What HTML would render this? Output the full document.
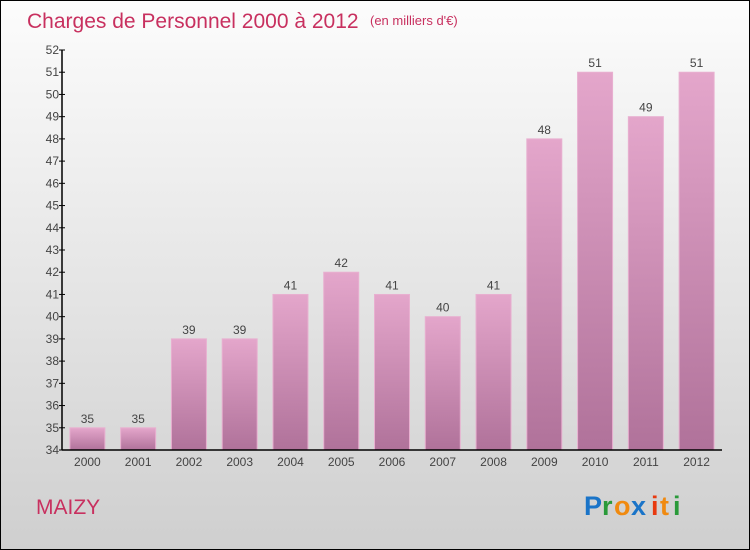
<!DOCTYPE html>
<html><head><meta charset="utf-8"><style>
body{margin:0}
#c{position:relative;width:748px;height:548px;border:1px solid #000;background:linear-gradient(#fcfcfc,#e6e6e6 50%,#cfcfcf);font-family:"Liberation Sans",sans-serif;overflow:hidden}
</style></head><body>
<div id="c">
<svg id="s" width="748" height="548" style="position:absolute;left:0;top:0">
<defs><linearGradient id="g" x1="0" y1="0" x2="0" y2="1"><stop offset="0" stop-color="#e4a6cb"/><stop offset="1" stop-color="#b0729a"/></linearGradient></defs>
<text x="26" y="27" font-size="21" fill="#c8305f">Charges de Personnel 2000 à 2012</text>
<text x="369" y="24" font-size="13" fill="#c8305f">(en milliers d'€)</text>
<text x="35" y="513" font-size="21" fill="#c8305f">MAIZY</text>
<g font-size="27" font-family="'Liberation Sans',sans-serif" font-weight="bold">
<text x="583" y="514" fill="#1a74c8">P</text><text x="601" y="514" fill="#2a9a3a">r</text><text x="613" y="514" fill="#f08a10">o</text><text x="630" y="514" fill="#1a74c8">x</text><text x="650" y="514" fill="#e83a10">i</text><text x="659" y="514" fill="#f08a10">t</text><text x="672" y="514" fill="#2a9a3a">i</text></g>
</svg>
</div>
<script>
const years=["2000","2001","2002","2003","2004","2005","2006","2007","2008","2009","2010","2011","2012"];
const values=[35,35,39,39,41,42,41,40,41,48,51,49,51];
const yTicks=[34,35,36,37,38,39,40,41,42,43,44,45,46,47,48,49,50,51,52];
const s=document.getElementById('s'),NS='http://www.w3.org/2000/svg';
const x0=61,x1=721,yMin=34,yMax=52,py0=449,py1=49;
const band=(x1-x0)/years.length;
const y=v=>py0-(v-yMin)/(yMax-yMin)*(py0-py1);
function el(t,a){const e=document.createElementNS(NS,t);for(const k in a)e.setAttribute(k,a[k]);s.appendChild(e);return e;}
years.forEach((yr,i)=>{
 const cx=x0+band*(i+0.5),w=35;
 const r=el('rect',{x:cx-w/2,y:y(values[i]),width:w,height:py0-y(values[i]),fill:'url(#g)',stroke:'#e8b0d0','stroke-width':1});
 
 
 const t=el('text',{x:cx,y:y(values[i])-5,'text-anchor':'middle','font-size':12,fill:'#444'});t.textContent=values[i];
 
 
 const l=el('text',{x:cx,y:py0+16,'text-anchor':'middle','font-size':12,fill:'#444'});l.textContent=yr;
 
 
});
yTicks.forEach(v=>{
 const tk=el('line',{x1:x0-3,x2:x0+3,y1:y(v),y2:y(v),stroke:'#000'});
 
 
 const t=el('text',{x:x0-3,y:y(v)+4,'text-anchor':'end','font-size':12,fill:'#444'});t.textContent=v;
 
 
});
const ya=el('line',{x1:x0,x2:x0,y1:py1,y2:py0,stroke:'#000','stroke-width':1.5});


const xa=el('line',{x1:x0,x2:x1,y1:py0,y2:py0,stroke:'#000','stroke-width':1.5});


</script>
</body></html>
